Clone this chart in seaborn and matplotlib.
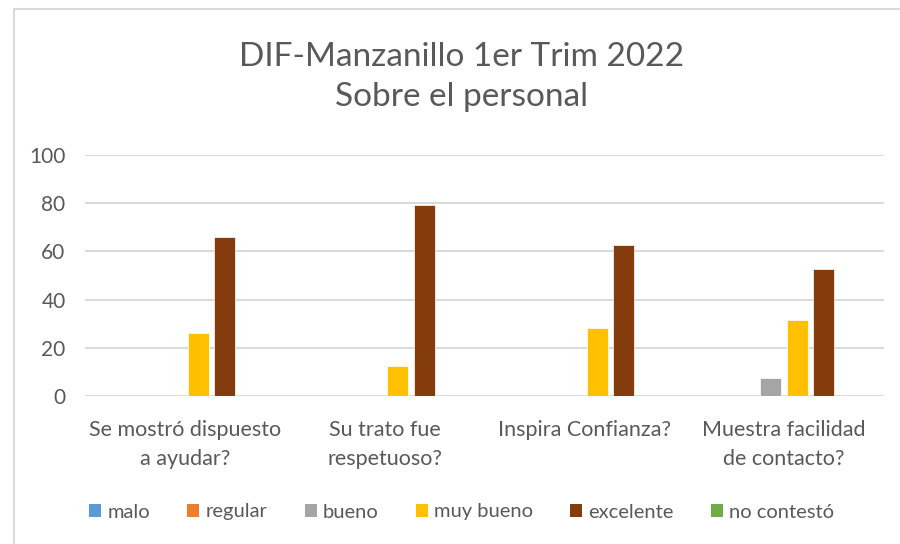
import numpy as np
import pandas as pd
import matplotlib
matplotlib.use('Agg')
import matplotlib.pyplot as plt
import seaborn as sns
from matplotlib.patches import Patch, Rectangle

# ================= 数据 =================
categories = ['Se mostró dispuesto\na ayudar?', 'Su trato fue\nrespetuoso?',
              'Inspira Confianza?', 'Muestra facilidad\nde contacto?']
series = ['malo', 'regular', 'bueno', 'muy bueno', 'excelente', 'no contestó']
malo = [0, 0, 0, 0]
regular = [0, 0, 0, 0]
bueno = [0, 0, 0, 7.6]
muy_bueno = [26.3, 12.4, 28.4, 31.6]
excelente = [65.8, 79.2, 62.6, 52.5]
no_contesto = [0, 0, 0, 0]
colors = ['#5B9BD5', '#ED7D31', '#A5A5A5', '#FFC000', '#843C0C', '#70AD47']
y_ticks = [0, 20, 40, 60, 80, 100]

values = [malo, regular, bueno, muy_bueno, excelente, no_contesto]
df = pd.DataFrame({
    'Pregunta': np.repeat([categories], len(series), axis=0).ravel(),
    'Respuesta': np.repeat(series, len(categories)),
    'Valor': np.ravel(values),
})

# ================= 样式 =================
sns.set_style('white')
plt.rcParams['font.family'] = ['Lato', 'DejaVu Sans']
text_color = '#595959'
grid_color = '#D9D9D9'

fig = plt.figure(figsize=(9, 5.44), dpi=100)
ax = fig.add_axes([85 / 900, 1 - 396 / 544, 799 / 900, 241 / 544])

sns.barplot(data=df, x='Pregunta', y='Valor', hue='Respuesta',
            hue_order=series, palette=colors, saturation=1, width=0.79, gap=0.2,
            edgecolor='white', linewidth=0.5, legend=False, ax=ax)

ax.set_ylim(0, 100)
ax.set_yticks(y_ticks)
ax.set_xlim(-0.5, len(categories) - 0.5)
ax.grid(axis='y', color=grid_color, linewidth=1.4)
ax.set_axisbelow(True)
for s in ax.spines.values():
    s.set_visible(False)
ax.set_xlabel('')
ax.set_ylabel('')
ax.tick_params(axis='y', length=0, pad=14, labelsize=15, labelcolor=text_color)
ax.tick_params(axis='x', length=0, pad=17, labelsize=15.5, labelcolor=text_color)
for lbl in ax.get_xticklabels():
    lbl.set_horizontalalignment('center')
    lbl.set_verticalalignment('top')
    lbl.set_linespacing(1.6)

fig.text(0.513, 1 - 77 / 544, 'DIF-Manzanillo 1er Trim 2022\nSobre el personal',
         ha='center', va='center', fontsize=24, color=text_color, linespacing=1.45)

handles = [Patch(facecolor=c, edgecolor='none', label=s) for c, s in zip(colors, series)]
fig.legend(handles=handles, loc='center', bbox_to_anchor=(0.513, 1 - 512 / 544),
           ncol=6, frameon=False, fontsize=14.5, labelcolor=text_color,
           handlelength=0.6, handleheight=0.6, handletextpad=0.3, columnspacing=1.85)

# 图表边框
fig.patches.append(Rectangle((14 / 900, -0.05), 1.1, 1 - 9 / 544 + 0.05,
                             transform=fig.transFigure, fill=False,
                             edgecolor='#D9D9D9', linewidth=1.5))

fig.savefig('out.png', dpi=100)
